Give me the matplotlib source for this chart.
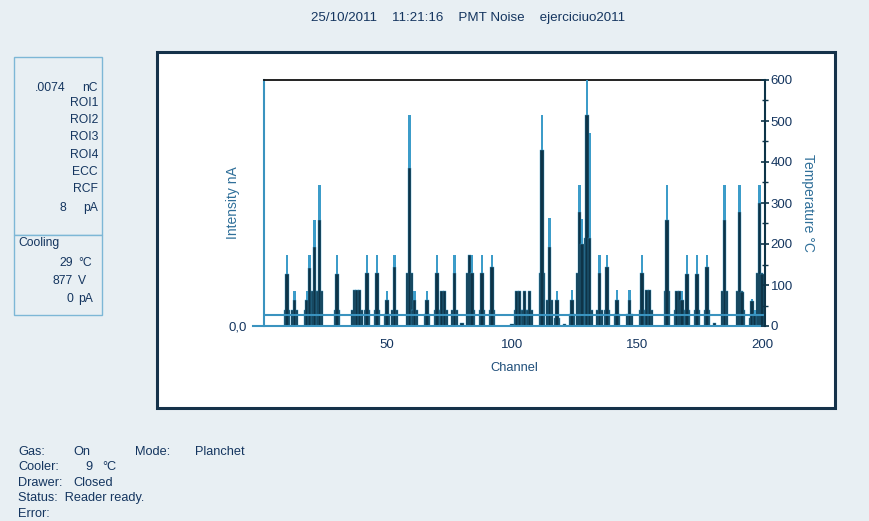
import matplotlib
matplotlib.use("Agg")
import matplotlib.pyplot as plt
from matplotlib.patches import Rectangle
from matplotlib.ticker import MultipleLocator

# PMT noise spectrum: channel, peak (tip), body level, base shoulder
channel = [10, 13, 18, 19, 21, 23, 30, 37, 38, 39, 42, 46, 50, 53, 59, 61, 66, 70,
           72, 73, 77, 80, 83, 84, 88, 92, 100, 102, 103, 105, 107, 112, 115, 118,
           121, 124, 127, 128, 130, 131, 135, 138, 142, 147, 152, 154, 155, 162,
           166, 167, 168, 170, 174, 178, 181, 185, 191, 192, 196, 197, 199, 200]
peak = [173, 86, 86, 173, 258, 344, 173, 88, 88, 88, 173, 173, 86, 173, 515, 86, 86, 173,
        86, 86, 173, 8, 173, 173, 173, 173, 5, 86, 86, 86, 86, 515, 263, 86,
        5, 88, 344, 260, 600, 470, 173, 173, 88, 88, 173, 88, 88, 344,
        86, 86, 86, 173, 173, 173, 8, 344, 344, 84, 67, 40, 344, 128]
body = [128, 63, 63, 141, 193, 258, 128, 88, 88, 88, 129, 129, 63, 145, 385, 63, 63, 129,
        86, 86, 129, 8, 173, 129, 129, 145, 5, 86, 86, 86, 86, 429, 193, 63,
        5, 63, 279, 200, 515, 215, 130, 145, 63, 63, 130, 88, 88, 258,
        86, 86, 63, 128, 128, 145, 8, 258, 279, 84, 60, 30, 299, 128]
base = [40, 40, 40, 63, 86, 86, 40, 40, 40, 40, 40, 40, 30, 40, 129, 40, 30, 40,
        40, 40, 40, 0, 129, 40, 40, 40, 0, 40, 40, 40, 40, 129, 63, 20,
        0, 30, 129, 86, 215, 40, 40, 40, 30, 30, 40, 40, 40, 86,
        40, 40, 40, 40, 40, 40, 0, 86, 86, 40, 20, 10, 129, 40]
threshold = 26

W, H = 869, 521
BG = "#e8eff3"
NAVY = "#14355f"
DARK = "#0e3448"
LIGHT = "#3c9cc9"
LINEBLUE = "#3a93bf"

plt.rcParams['font.family'] = ['Liberation Sans Narrow', 'Liberation Sans', 'DejaVu Sans']


def fx(x):
    return x / W


def fy(y):
    return 1 - y / H


fig = plt.figure(figsize=(W / 100, H / 100), dpi=100, facecolor=BG)

# white chart panel with dark frame (kept behind the axes)
fig.patches.append(Rectangle((fx(157), fy(408)), fx(835) - fx(157), fy(52) - fy(408),
                             transform=fig.transFigure, facecolor="white",
                             edgecolor="#15324a", linewidth=2.2, zorder=-10))

# info boxes on the left
fig.patches.append(Rectangle((fx(14), fy(235)), fx(88), fy(57) - fy(235),
                             transform=fig.transFigure, facecolor=BG,
                             edgecolor="#7db7d6", linewidth=1.0, zorder=-10))
fig.patches.append(Rectangle((fx(14), fy(315)), fx(88), fy(235) - fy(315),
                             transform=fig.transFigure, facecolor=BG,
                             edgecolor="#7db7d6", linewidth=1.0, zorder=-10))

fig.text(fx(468), fy(18), "25/10/2011    11:21:16    PMT Noise    ejerciciuo2011",
         ha="center", va="center", fontsize=9.6, color=NAVY)

fs = 8.7
fig.text(fx(66), fy(88), ".0074", ha="right", va="center", fontsize=fs, color=NAVY)
rows = [("nC", 88), ("ROI1", 103), ("ROI2", 120), ("ROI3", 137), ("ROI4", 155),
        ("ECC", 172), ("RCF", 189), ("pA", 208)]
for label, y in rows:
    fig.text(fx(98), fy(y), label, ha="right", va="center", fontsize=fs, color=NAVY)
fig.text(fx(66), fy(208), "8", ha="right", va="center", fontsize=fs, color=NAVY)

fig.text(fx(18), fy(243), "Cooling", ha="left", va="center", fontsize=fs, color=NAVY)
cool = [("29", "°C", 263), ("877", "V", 281), ("0", "pA", 299)]
for val, unit, y in cool:
    fig.text(fx(73), fy(y), val, ha="right", va="center", fontsize=fs, color=NAVY)
    fig.text(fx(78), fy(y), unit, ha="left", va="center", fontsize=fs, color=NAVY)

# status lines at the bottom
fs2 = 9.2
fig.text(fx(18), fy(452), "Gas:", ha="left", va="center", fontsize=fs2, color=NAVY)
fig.text(fx(73), fy(452), "On", ha="left", va="center", fontsize=fs2, color=NAVY)
fig.text(fx(135), fy(452), "Mode:", ha="left", va="center", fontsize=fs2, color=NAVY)
fig.text(fx(195), fy(452), "Planchet", ha="left", va="center", fontsize=fs2, color=NAVY)
fig.text(fx(18), fy(467), "Cooler:", ha="left", va="center", fontsize=fs2, color=NAVY)
fig.text(fx(93), fy(467), "9", ha="right", va="center", fontsize=fs2, color=NAVY)
fig.text(fx(102), fy(467), "°C", ha="left", va="center", fontsize=fs2, color=NAVY)
fig.text(fx(18), fy(483), "Drawer:", ha="left", va="center", fontsize=fs2, color=NAVY)
fig.text(fx(73), fy(483), "Closed", ha="left", va="center", fontsize=fs2, color=NAVY)
fig.text(fx(18), fy(498), "Status:  Reader ready.", ha="left", va="center", fontsize=fs2, color=NAVY)
fig.text(fx(18), fy(514), "Error:", ha="left", va="center", fontsize=fs2, color=NAVY)

# spectrum axes
ax = fig.add_axes([fx(264), fy(326), fx(765) - fx(264), fy(80) - fy(326)])
ax.set_zorder(1)
ax.set_facecolor("white")
ax.bar(channel, base, width=2.6, color=DARK, edgecolor=LIGHT, linewidth=0.3, zorder=2)
ax.bar(channel, peak, width=1.0, color=LIGHT, linewidth=0, zorder=3)
ax.bar(channel, body, width=1.4, color=DARK, edgecolor=LIGHT, linewidth=0.3, zorder=4)
ax.axhline(threshold, color=LINEBLUE, linewidth=1.5, zorder=5)
# zero line runs a little past the left axis towards the "0,0" label
ax.axhline(0, xmin=-0.022, xmax=1, color=LINEBLUE, linewidth=1.5, zorder=5, clip_on=False)

ax.set_xlim(0.8, 201.2)
ax.set_ylim(0, 600)
ax.spines["left"].set_color(LINEBLUE)
ax.spines["left"].set_linewidth(1.5)
ax.spines["top"].set_color("#111111")
ax.spines["top"].set_linewidth(1.3)
ax.spines["right"].set_visible(False)
ax.spines["bottom"].set_visible(False)

ax.set_xticks([50, 100, 150, 200])
ax.tick_params(axis="x", length=0, pad=9, labelsize=9.5, labelcolor=NAVY)
ax.set_yticks([0])
ax.set_yticklabels(["0,0"])
ax.tick_params(axis="y", length=0, pad=12, labelsize=9.5, labelcolor=NAVY)
ax.set_xlabel("Channel", fontsize=9.3, color="#1f4e7a", labelpad=8)
ax.set_ylabel("Intensity nA", fontsize=10, color="#2f6f99", labelpad=-8)

# temperature scale on the right
ax2 = ax.twinx()
ax2.set_ylim(0, 600)
for s in ["left", "top", "bottom"]:
    ax2.spines[s].set_visible(False)
ax2.spines["right"].set_color(DARK)
ax2.spines["right"].set_linewidth(1.5)
ax2.yaxis.set_major_locator(MultipleLocator(100))
ax2.yaxis.set_minor_locator(MultipleLocator(50))
ax2.tick_params(axis="y", which="major", direction="inout", length=6, width=1.2,
                color=DARK, labelsize=9.5, labelcolor=NAVY, pad=1)
ax2.tick_params(axis="y", which="minor", direction="inout", length=5, width=1.0, color=DARK)
ax2.set_ylabel("Temperature °C", fontsize=10, color="#2f6f99", rotation=270, labelpad=16)

fig.savefig("out.png", dpi=100, facecolor=BG)
